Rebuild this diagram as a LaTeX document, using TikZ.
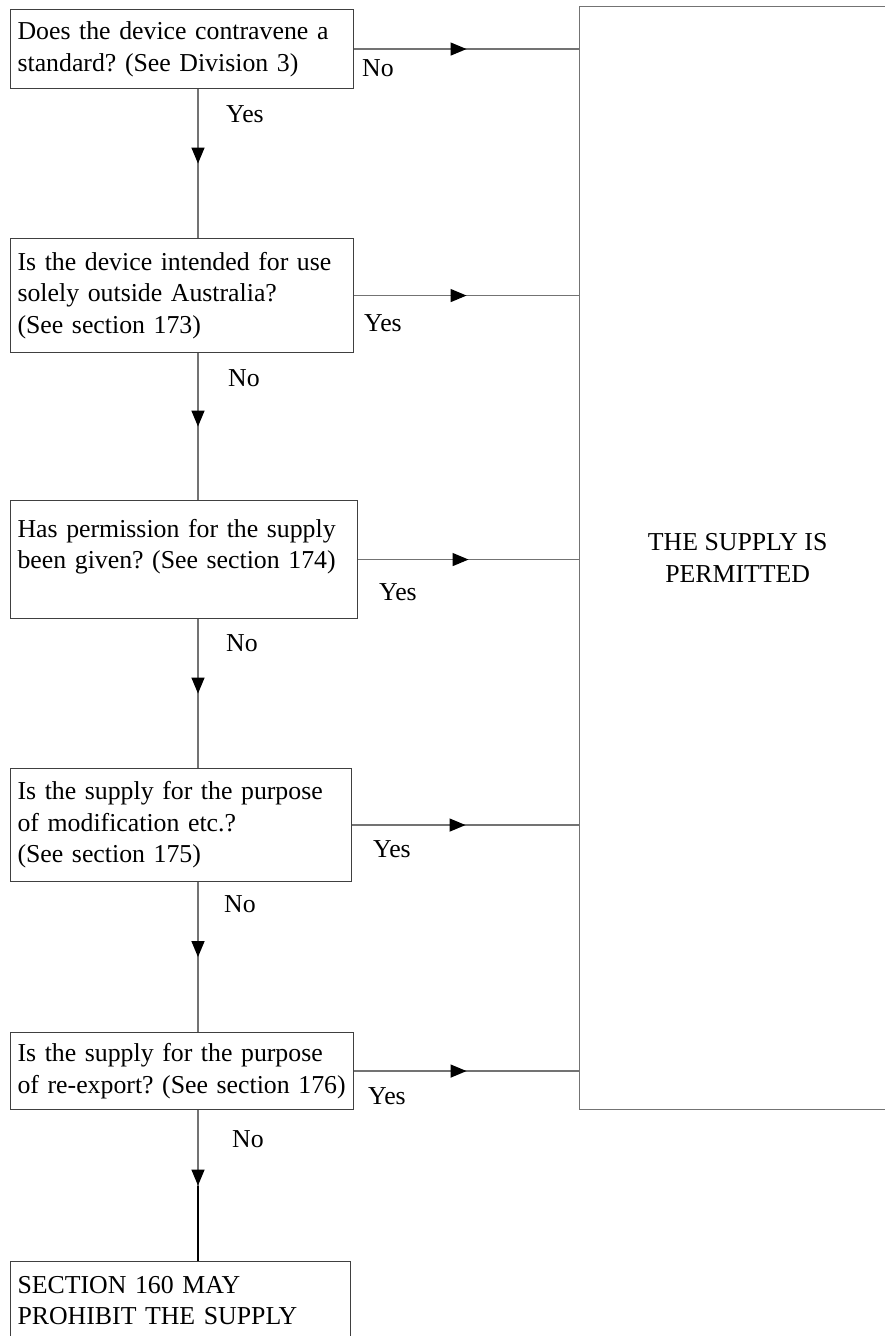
\documentclass[tikz,border=0pt]{standalone}
\usepackage{fontspec}
\setmainfont{Liberation Serif}
\usetikzlibrary{arrows.meta,decorations.markings}

\begin{document}
\frenchspacing
\begin{tikzpicture}[x=1pt, y=-1pt,
    qbox/.style={draw=black!75, line width=1.1pt, rectangle, anchor=north west, align=left, inner xsep=7pt, inner ysep=0pt, font=\fontsize{25.8}{31.5}\selectfont},
    conn/.style={draw=black!55, line width=1.4pt, postaction={decorate}, decoration={markings, mark=at position 0.5 with {\arrow{Triangle[length=16pt, width=13pt, color=black]}}}},
    lbl/.style={anchor=base west, inner sep=0pt, font=\fontsize{25.8}{31.5}\selectfont}]
    \useasboundingbox (0,0) rectangle (885,1336);
    \coordinate (spine) at (198,0);
    \node[qbox, text width=329pt, minimum height=79pt] (q1) at (10,9) {Does the device contravene a\\standard? (See Division 3)};
    \node[qbox, text width=329pt, minimum height=114pt] (q2) at (10,238) {Is the device intended for use\\solely outside Australia?\\(See section 173)};
    \node[qbox, text width=333pt, minimum height=118pt] (q3) at (10,500) {Has permission for the supply\\been given? (See section 174)\\\mbox{}};
    \node[qbox, text width=327pt, minimum height=113pt] (q4) at (10,768) {Is the supply for the purpose\\of modification etc.?\\(See section 175)};
    \node[qbox, text width=329pt, minimum height=77pt] (q5) at (10,1032) {Is the supply for the purpose\\of re-export? (See section 176)};
    \node[qbox, text width=326pt, minimum height=78pt] (q6) at (10,1261) {SECTION 160 MAY\\PROHIBIT THE SUPPLY};
    \node[draw=black!55, line width=1.4pt, rectangle, anchor=north west, minimum width=316pt, minimum height=1103pt, align=center, font=\fontsize{25.8}{31.5}\selectfont] (ok) at (579,6) {THE SUPPLY IS\\PERMITTED};
    % down the left
    \draw[conn] (q1.south -| spine) -- (q2.north -| spine);
    \draw[conn] (q2.south -| spine) -- (q3.north -| spine);
    \draw[conn] (q3.south -| spine) -- (q4.north -| spine);
    \draw[conn] (q4.south -| spine) -- (q5.north -| spine);
    \draw[conn] (q5.south -| spine) -- coordinate[pos=0.5] (m5) (q6.north -| spine);
    \draw[black, line width=1.8pt] (m5) -- (q6.north -| spine);
    % across to the right
    \draw[conn] (q1.east) -- (q1.east -| ok.west);
    \draw[conn] (q2.east) -- (q2.east -| ok.west);
    \draw[conn] (q3.east) -- (q3.east -| ok.west);
    \draw[conn] (q4.east) -- (q4.east -| ok.west);
    \draw[conn] (q5.east) -- (q5.east -| ok.west);
    % labels
    \node[lbl] (n1) at (362,76) {No};
    \node[lbl] (y1) at (226,122) {Yes};
    \node[lbl] (y2) at (364,331) {Yes};
    \node[lbl] (n2) at (228,386) {No};
    \node[lbl] (y3) at (379,600) {Yes};
    \node[lbl] (n3) at (226,651) {No};
    \node[lbl] (y4) at (373,857) {Yes};
    \node[lbl] (n4) at (224,912) {No};
    \node[lbl] (y5) at (368,1104) {Yes};
    \node[lbl] (n5) at (232,1147) {No};
\end{tikzpicture}
\end{document}
